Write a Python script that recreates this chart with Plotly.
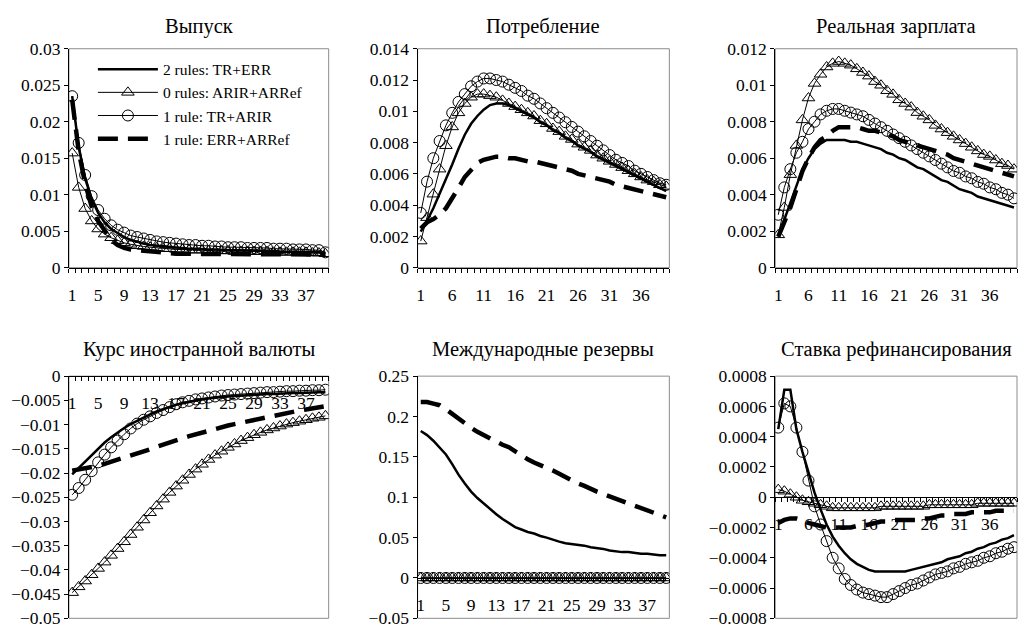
import plotly.graph_objects as go

# ---- data -------------------------------------------------------------
periods = list(range(1, 41))

series_names = ["2 rules: TR+ERR", "0 rules: ARIR+ARRef",
                "1 rule: TR+ARIR", "1 rule: ERR+ARRef"]

titles = ["Выпуск", "Потребление", "Реальная зарплата",
          "Курс иностранной валюты", "Международные резервы",
          "Ставка рефинансирования"]

ticks_by4 = [1, 5, 9, 13, 17, 21, 25, 29, 33, 37]
ticks_by5 = [1, 6, 11, 16, 21, 26, 31, 36]

yticks_output = [0, 0.005, 0.01, 0.015, 0.02, 0.025, 0.03]
yticks_cons = [0, 0.002, 0.004, 0.006, 0.008, 0.01, 0.012, 0.014]
yticks_wage = [0, 0.002, 0.004, 0.006, 0.008, 0.01, 0.012]
yticks_fx = [-0.05, -0.045, -0.04, -0.035, -0.03, -0.025, -0.02, -0.015, -0.01, -0.005, 0]
yticks_res = [-0.05, 0, 0.05, 0.1, 0.15, 0.2, 0.25]
yticks_rate = [-0.0008, -0.0006, -0.0004, -0.0002, 0, 0.0002, 0.0004, 0.0006, 0.0008]

# Выпуск
output_2r = [0.0235, 0.0165, 0.0122, 0.0094, 0.0075, 0.0062, 0.0053, 0.0047, 0.0042, 0.0038,
             0.0035, 0.0033, 0.0031, 0.0030, 0.0029, 0.0028, 0.0027, 0.0027, 0.0026, 0.0026,
             0.0025, 0.0025, 0.0025, 0.0024, 0.0024, 0.0024, 0.0024, 0.0023, 0.0023, 0.0023,
             0.0023, 0.0023, 0.0022, 0.0022, 0.0022, 0.0022, 0.0022, 0.0021, 0.0021, 0.0020]
output_0r = [0.0157, 0.0110, 0.0081, 0.0064, 0.0053, 0.0046, 0.0041, 0.0037, 0.0034, 0.0032,
             0.0030, 0.0029, 0.0028, 0.0027, 0.0026, 0.0026, 0.0025, 0.0025, 0.0024, 0.0024,
             0.0024, 0.0023, 0.0023, 0.0023, 0.0023, 0.0022, 0.0022, 0.0022, 0.0022, 0.0022,
             0.0022, 0.0021, 0.0021, 0.0021, 0.0021, 0.0021, 0.0021, 0.0020, 0.0020, 0.0019]
output_1r_tr = [0.0235, 0.0171, 0.0127, 0.0098, 0.0079, 0.0067, 0.0058, 0.0052, 0.0048, 0.0044,
                0.0042, 0.0040, 0.0038, 0.0036, 0.0035, 0.0034, 0.0033, 0.0032, 0.0031, 0.0031,
                0.0030, 0.0030, 0.0029, 0.0029, 0.0028, 0.0028, 0.0028, 0.0027, 0.0027, 0.0027,
                0.0027, 0.0026, 0.0026, 0.0026, 0.0025, 0.0025, 0.0025, 0.0024, 0.0024, 0.0021]
output_1r_err = [0.0230, 0.0160, 0.0115, 0.0084, 0.0064, 0.0050, 0.0038, 0.0031, 0.0027, 0.0025,
                 0.0024, 0.0023, 0.0022, 0.0021, 0.0020, 0.0019, 0.0019, 0.0019, 0.0019, 0.0019,
                 0.0019, 0.0019, 0.0019, 0.0019, 0.0019, 0.0019, 0.0019, 0.0019, 0.0019, 0.0019,
                 0.0019, 0.0019, 0.0019, 0.0019, 0.0019, 0.0019, 0.0019, 0.0019, 0.0019, 0.0018]

# Потребление
cons_2r = [0.0023, 0.0030, 0.0038, 0.0047, 0.0056, 0.0066, 0.0076, 0.0085, 0.0092, 0.0097,
           0.0101, 0.0104, 0.0105, 0.0105, 0.0104, 0.0102, 0.0100, 0.0098, 0.0096, 0.0093,
           0.0091, 0.0088, 0.0086, 0.0083, 0.0081, 0.0078, 0.0076, 0.0074, 0.0071, 0.0069,
           0.0067, 0.0065, 0.0063, 0.0061, 0.0059, 0.0057, 0.0055, 0.0053, 0.0051, 0.0049]
cons_0r = [0.0017, 0.0032, 0.0047, 0.0063, 0.0078, 0.0090, 0.0099, 0.0105, 0.0109, 0.0111,
           0.0111, 0.0110, 0.0109, 0.0107, 0.0105, 0.0103, 0.0101, 0.0099, 0.0097, 0.0094,
           0.0092, 0.0089, 0.0087, 0.0084, 0.0082, 0.0079, 0.0077, 0.0075, 0.0072, 0.0070,
           0.0068, 0.0066, 0.0064, 0.0062, 0.0060, 0.0058, 0.0056, 0.0055, 0.0053, 0.0052]
cons_1r_tr = [0.0035, 0.0055, 0.0070, 0.0081, 0.0091, 0.0099, 0.0106, 0.0111, 0.0116, 0.0119,
              0.0121, 0.0121, 0.0120, 0.0119, 0.0117, 0.0115, 0.0113, 0.0110, 0.0108, 0.0105,
              0.0102, 0.0099, 0.0096, 0.0093, 0.0090, 0.0087, 0.0084, 0.0081, 0.0078, 0.0075,
              0.0072, 0.0069, 0.0067, 0.0065, 0.0062, 0.0060, 0.0058, 0.0056, 0.0054, 0.0053]
cons_1r_err = [0.0025, 0.0029, 0.0031, 0.0034, 0.0038, 0.0044, 0.0051, 0.0058, 0.0063, 0.0067,
               0.0069, 0.0070, 0.0071, 0.0071, 0.0070, 0.0070, 0.0069, 0.0068, 0.0068, 0.0067,
               0.0066, 0.0065, 0.0064, 0.0063, 0.0062, 0.0060, 0.0059, 0.0058, 0.0057, 0.0056,
               0.0055, 0.0053, 0.0052, 0.0051, 0.0050, 0.0049, 0.0048, 0.0047, 0.0046, 0.0045]

# Реальная зарплата
wage_2r = [0.0017, 0.0026, 0.0035, 0.0045, 0.0054, 0.0060, 0.0065, 0.0068, 0.0070, 0.0070,
           0.0070, 0.0070, 0.0069, 0.0069, 0.0068, 0.0067, 0.0066, 0.0065, 0.0063, 0.0062,
           0.0060, 0.0059, 0.0057, 0.0055, 0.0054, 0.0052, 0.0050, 0.0048, 0.0047, 0.0045,
           0.0043, 0.0042, 0.0041, 0.0039, 0.0038, 0.0037, 0.0036, 0.0035, 0.0034, 0.0033]
wage_0r = [0.0018, 0.0033, 0.0051, 0.0067, 0.0081, 0.0093, 0.0101, 0.0106, 0.0110, 0.0112,
           0.0113, 0.0112, 0.0111, 0.0109, 0.0107, 0.0105, 0.0102, 0.0100, 0.0097, 0.0095,
           0.0092, 0.0090, 0.0088, 0.0085, 0.0083, 0.0081, 0.0078, 0.0076, 0.0074, 0.0072,
           0.0070, 0.0068, 0.0066, 0.0064, 0.0062, 0.0061, 0.0059, 0.0057, 0.0056, 0.0054]
wage_1r_tr = [0.0029, 0.0044, 0.0054, 0.0063, 0.0069, 0.0076, 0.0080, 0.0084, 0.0086, 0.0087,
              0.0087, 0.0086, 0.0085, 0.0084, 0.0083, 0.0081, 0.0079, 0.0077, 0.0075, 0.0073,
              0.0071, 0.0069, 0.0067, 0.0065, 0.0063, 0.0061, 0.0059, 0.0057, 0.0055, 0.0053,
              0.0052, 0.0050, 0.0049, 0.0047, 0.0046, 0.0044, 0.0043, 0.0041, 0.0040, 0.0038]
wage_1r_err = [0.0017, 0.0025, 0.0033, 0.0043, 0.0053, 0.0060, 0.0066, 0.0070, 0.0072, 0.0075,
               0.0077, 0.0077, 0.0077, 0.0077, 0.0076, 0.0075, 0.0075, 0.0074, 0.0073, 0.0072,
               0.0070, 0.0069, 0.0068, 0.0067, 0.0066, 0.0065, 0.0064, 0.0063, 0.0062, 0.0060,
               0.0059, 0.0058, 0.0057, 0.0056, 0.0055, 0.0054, 0.0053, 0.0052, 0.0051, 0.0050]

# Курс иностранной валюты
fx_2r = [-0.0203, -0.0190, -0.0176, -0.0162, -0.0149, -0.0137, -0.0126, -0.0116, -0.0107, -0.0099,
         -0.0092, -0.0085, -0.0079, -0.0073, -0.0068, -0.0063, -0.0059, -0.0056, -0.0053, -0.0050,
         -0.0048, -0.0046, -0.0044, -0.0043, -0.0042, -0.0041, -0.0040, -0.0039, -0.0038, -0.0038,
         -0.0037, -0.0037, -0.0036, -0.0036, -0.0035, -0.0035, -0.0034, -0.0034, -0.0033, -0.0033]
fx_0r = [-0.0447, -0.0435, -0.0423, -0.0410, -0.0397, -0.0384, -0.0370, -0.0356, -0.0342, -0.0327,
         -0.0312, -0.0297, -0.0282, -0.0268, -0.0254, -0.0240, -0.0227, -0.0215, -0.0203, -0.0192,
         -0.0182, -0.0172, -0.0163, -0.0155, -0.0147, -0.0140, -0.0133, -0.0127, -0.0121, -0.0116,
         -0.0111, -0.0107, -0.0103, -0.0099, -0.0096, -0.0093, -0.0090, -0.0087, -0.0085, -0.0082]
fx_1r_tr = [-0.0245, -0.0231, -0.0214, -0.0196, -0.0178, -0.0162, -0.0147, -0.0133, -0.0120, -0.0108,
            -0.0098, -0.0090, -0.0083, -0.0076, -0.0070, -0.0064, -0.0058, -0.0054, -0.0051, -0.0048,
            -0.0046, -0.0044, -0.0042, -0.0040, -0.0039, -0.0038, -0.0037, -0.0036, -0.0035, -0.0034,
            -0.0033, -0.0033, -0.0032, -0.0031, -0.0031, -0.0030, -0.0030, -0.0029, -0.0029, -0.0028]
fx_1r_err = [-0.0195, -0.0193, -0.0191, -0.0188, -0.0185, -0.0181, -0.0177, -0.0173, -0.0169, -0.0164,
             -0.0160, -0.0155, -0.0151, -0.0146, -0.0141, -0.0137, -0.0132, -0.0128, -0.0124, -0.0120,
             -0.0116, -0.0112, -0.0108, -0.0105, -0.0102, -0.0099, -0.0096, -0.0093, -0.0090, -0.0087,
             -0.0084, -0.0081, -0.0079, -0.0076, -0.0074, -0.0071, -0.0069, -0.0067, -0.0065, -0.0062]

# Международные резервы
res_2r = [0.182, 0.177, 0.170, 0.162, 0.153, 0.141, 0.128, 0.117, 0.107, 0.099,
          0.092, 0.085, 0.079, 0.073, 0.068, 0.063, 0.060, 0.057, 0.055, 0.052,
          0.050, 0.047, 0.045, 0.043, 0.042, 0.041, 0.040, 0.038, 0.037, 0.036,
          0.034, 0.033, 0.032, 0.032, 0.031, 0.030, 0.030, 0.029, 0.028, 0.028]
res_0r = [0.0, 0.0, 0.0, 0.0, 0.0, 0.0, 0.0, 0.0, 0.0, 0.0,
          0.0, 0.0, 0.0, 0.0, 0.0, 0.0, 0.0, 0.0, 0.0, 0.0,
          0.0, 0.0, 0.0, 0.0, 0.0, 0.0, 0.0, 0.0, 0.0, 0.0,
          0.0, 0.0, 0.0, 0.0, 0.0, 0.0, 0.0, 0.0, 0.0, 0.0]
res_1r_tr = [0.0, 0.0, 0.0, 0.0, 0.0, 0.0, 0.0, 0.0, 0.0, 0.0,
             0.0, 0.0, 0.0, 0.0, 0.0, 0.0, 0.0, 0.0, 0.0, 0.0,
             0.0, 0.0, 0.0, 0.0, 0.0, 0.0, 0.0, 0.0, 0.0, 0.0,
             0.0, 0.0, 0.0, 0.0, 0.0, 0.0, 0.0, 0.0, 0.0, 0.0]
res_1r_err = [0.218, 0.218, 0.216, 0.214, 0.209, 0.203, 0.197, 0.191, 0.186, 0.181,
              0.177, 0.172, 0.168, 0.165, 0.162, 0.157, 0.151, 0.147, 0.143, 0.140,
              0.137, 0.133, 0.129, 0.125, 0.120, 0.117, 0.114, 0.110, 0.107, 0.104,
              0.101, 0.098, 0.095, 0.092, 0.089, 0.086, 0.083, 0.081, 0.078, 0.075]

# Ставка рефинансирования
rate_2r = [0.00045, 0.00071, 0.00071, 0.00045, 0.00030, 0.00016, 0.00003, -0.00008, -0.00018, -0.00026,
           -0.00032, -0.00037, -0.00041, -0.00044, -0.00046, -0.00048, -0.00049, -0.00049, -0.00049, -0.00049,
           -0.00049, -0.00049, -0.00048, -0.00047, -0.00046, -0.00045, -0.00044, -0.00043, -0.00041, -0.00040,
           -0.00039, -0.00037, -0.00036, -0.00034, -0.00033, -0.00031, -0.00030, -0.00028, -0.00027, -0.00025]
rate_0r = [0.00005, 0.00004, 0.00002, 0.00000, -0.00002, -0.00003, -0.00004, -0.00005, -0.00006, -0.00007,
           -0.00007, -0.00007, -0.00007, -0.00007, -0.00007, -0.00007, -0.00007, -0.00006, -0.00006, -0.00006,
           -0.00006, -0.00006, -0.00006, -0.00006, -0.00006, -0.00005, -0.00005, -0.00005, -0.00005, -0.00005,
           -0.00005, -0.00005, -0.00005, -0.00004, -0.00004, -0.00004, -0.00004, -0.00004, -0.00004, -0.00004]
rate_1r_tr = [0.00046, 0.00062, 0.00060, 0.00046, 0.00030, 0.00011, -0.00006, -0.00018, -0.00029, -0.00040,
              -0.00047, -0.00054, -0.00058, -0.00061, -0.00063, -0.00064, -0.00065, -0.00066, -0.00066, -0.00064,
              -0.00062, -0.00060, -0.00058, -0.00057, -0.00055, -0.00053, -0.00051, -0.00050, -0.00049, -0.00047,
              -0.00046, -0.00044, -0.00043, -0.00042, -0.00040, -0.00039, -0.00037, -0.00036, -0.00034, -0.00033]
rate_1r_err = [-0.00017, -0.00015, -0.00014, -0.00014, -0.00015, -0.00017, -0.00018, -0.00019, -0.00020, -0.00020,
               -0.00020, -0.00020, -0.00020, -0.00019, -0.00019, -0.00018, -0.00017, -0.00016, -0.00016, -0.00015,
               -0.00015, -0.00015, -0.00015, -0.00015, -0.00014, -0.00014, -0.00013, -0.00012, -0.00012, -0.00011,
               -0.00011, -0.00011, -0.00010, -0.00010, -0.00010, -0.00010, -0.00009, -0.00009, -0.00009, -0.00009]

panels = [
    dict(title=titles[0], series=[output_2r, output_0r, output_1r_tr, output_1r_err],
         yticks=yticks_output, xticks=ticks_by4),
    dict(title=titles[1], series=[cons_2r, cons_0r, cons_1r_tr, cons_1r_err],
         yticks=yticks_cons, xticks=ticks_by5),
    dict(title=titles[2], series=[wage_2r, wage_0r, wage_1r_tr, wage_1r_err],
         yticks=yticks_wage, xticks=ticks_by5),
    dict(title=titles[3], series=[fx_2r, fx_0r, fx_1r_tr, fx_1r_err],
         yticks=yticks_fx, xticks=ticks_by4),
    dict(title=titles[4], series=[res_2r, res_0r, res_1r_tr, res_1r_err],
         yticks=yticks_res, xticks=ticks_by4),
    dict(title=titles[5], series=[rate_2r, rate_0r, rate_1r_tr, rate_1r_err],
         yticks=yticks_rate, xticks=ticks_by5),
]

# ---- styling ----------------------------------------------------------
W, H = 1021, 638
FONT = "Liberation Serif, Times New Roman, serif"
col_px = [(68, 328), (417, 669), (775, 1017)]
row_px = [(40, 266), (378, 628)]
title_px = [17, 351]


def fmt(v):
    # Excel-style labels with a real minus sign
    return f"{v:g}".replace("-", "\u2212")


trace_styles = [
    dict(mode="lines", line=dict(color="black", width=2.5)),
    dict(mode="lines+markers", line=dict(color="black", width=1),
         marker=dict(symbol="triangle-up-open", size=11, color="black", line=dict(width=1))),
    dict(mode="lines+markers", line=dict(color="black", width=1),
         marker=dict(symbol="circle-open", size=11, color="black", line=dict(width=1))),
    dict(mode="lines", line=dict(color="black", width=4.5, dash="20px,10px")),
]

fig = go.Figure()
layout = {}
shapes = []
annotations = []

for k, p in enumerate(panels):
    r, c = divmod(k, 3)
    n = "" if k == 0 else str(k + 1)
    x0, x1 = col_px[c][0] / W, col_px[c][1] / W
    ytop, ybot = 1 - row_px[r][0] / H, 1 - row_px[r][1] / H
    lo, hi = min(p["yticks"]), max(p["yticks"])
    zero_pos = ybot + (0 - lo) / (hi - lo) * (ytop - ybot)

    for i, ys in enumerate(p["series"]):
        fig.add_trace(go.Scatter(x=periods, y=ys, name=series_names[i],
                                 legendgroup=series_names[i], showlegend=(k == 0),
                                 xaxis="x" + n, yaxis="y" + n, **trace_styles[i]))

    layout["xaxis" + n] = dict(
        domain=[x0, x1], anchor="free", position=zero_pos, range=[0.5, 40.5],
        tickmode="array", tickvals=p["xticks"], ticktext=[str(v) for v in p["xticks"]],
        ticks="", showline=True, linecolor="black", linewidth=1, showgrid=False,
        zeroline=False, ticklabelstandoff=11,
        minor=dict(tickmode="linear", tick0=0.5, dtick=1, ticks="outside",
                   ticklen=4, tickcolor="black", showgrid=False),
        tickfont=dict(family=FONT, size=17.5, color="black"),
    )
    layout["yaxis" + n] = dict(
        domain=[ybot, ytop], anchor="x" + n, range=[lo, hi],
        tickmode="array", tickvals=p["yticks"], ticktext=[fmt(v) for v in p["yticks"]],
        ticks="outside", ticklen=4, tickcolor="black", showline=True, linecolor="black",
        linewidth=1, showgrid=False, zeroline=False,
        tickfont=dict(family=FONT, size=17.5, color="black"),
    )
    shapes.append(dict(type="rect", xref="x" + n + " domain", yref="y" + n + " domain",
                       x0=0, x1=1, y0=0, y1=1, line=dict(color="#8c8c8c", width=1),
                       layer="below"))
    annotations.append(dict(text=p["title"], xref="paper", yref="paper",
                            x=(x0 + x1) / 2, y=1 - title_px[r] / H, xanchor="center",
                            yanchor="middle", showarrow=False,
                            font=dict(family=FONT, size=20.5, color="black")))

fig.update_layout(
    width=W, height=H, margin=dict(l=0, r=0, t=0, b=0),
    paper_bgcolor="white", plot_bgcolor="white",
    shapes=shapes, annotations=annotations,
    legend=dict(x=92 / W, y=1 - 44 / H, xanchor="left", yanchor="top",
                bgcolor="rgba(0,0,0,0)", borderwidth=0, itemwidth=60,
                font=dict(family=FONT, size=15.5, color="black"), tracegroupgap=0),
    font=dict(family=FONT, size=17, color="black"),
    **layout,
)

# the page body has a default 8px margin; drop it so the chart sits at 0,0
fig.write_html("out.html", config={"displayModeBar": False},
               post_script="document.body.style.margin='0';")
